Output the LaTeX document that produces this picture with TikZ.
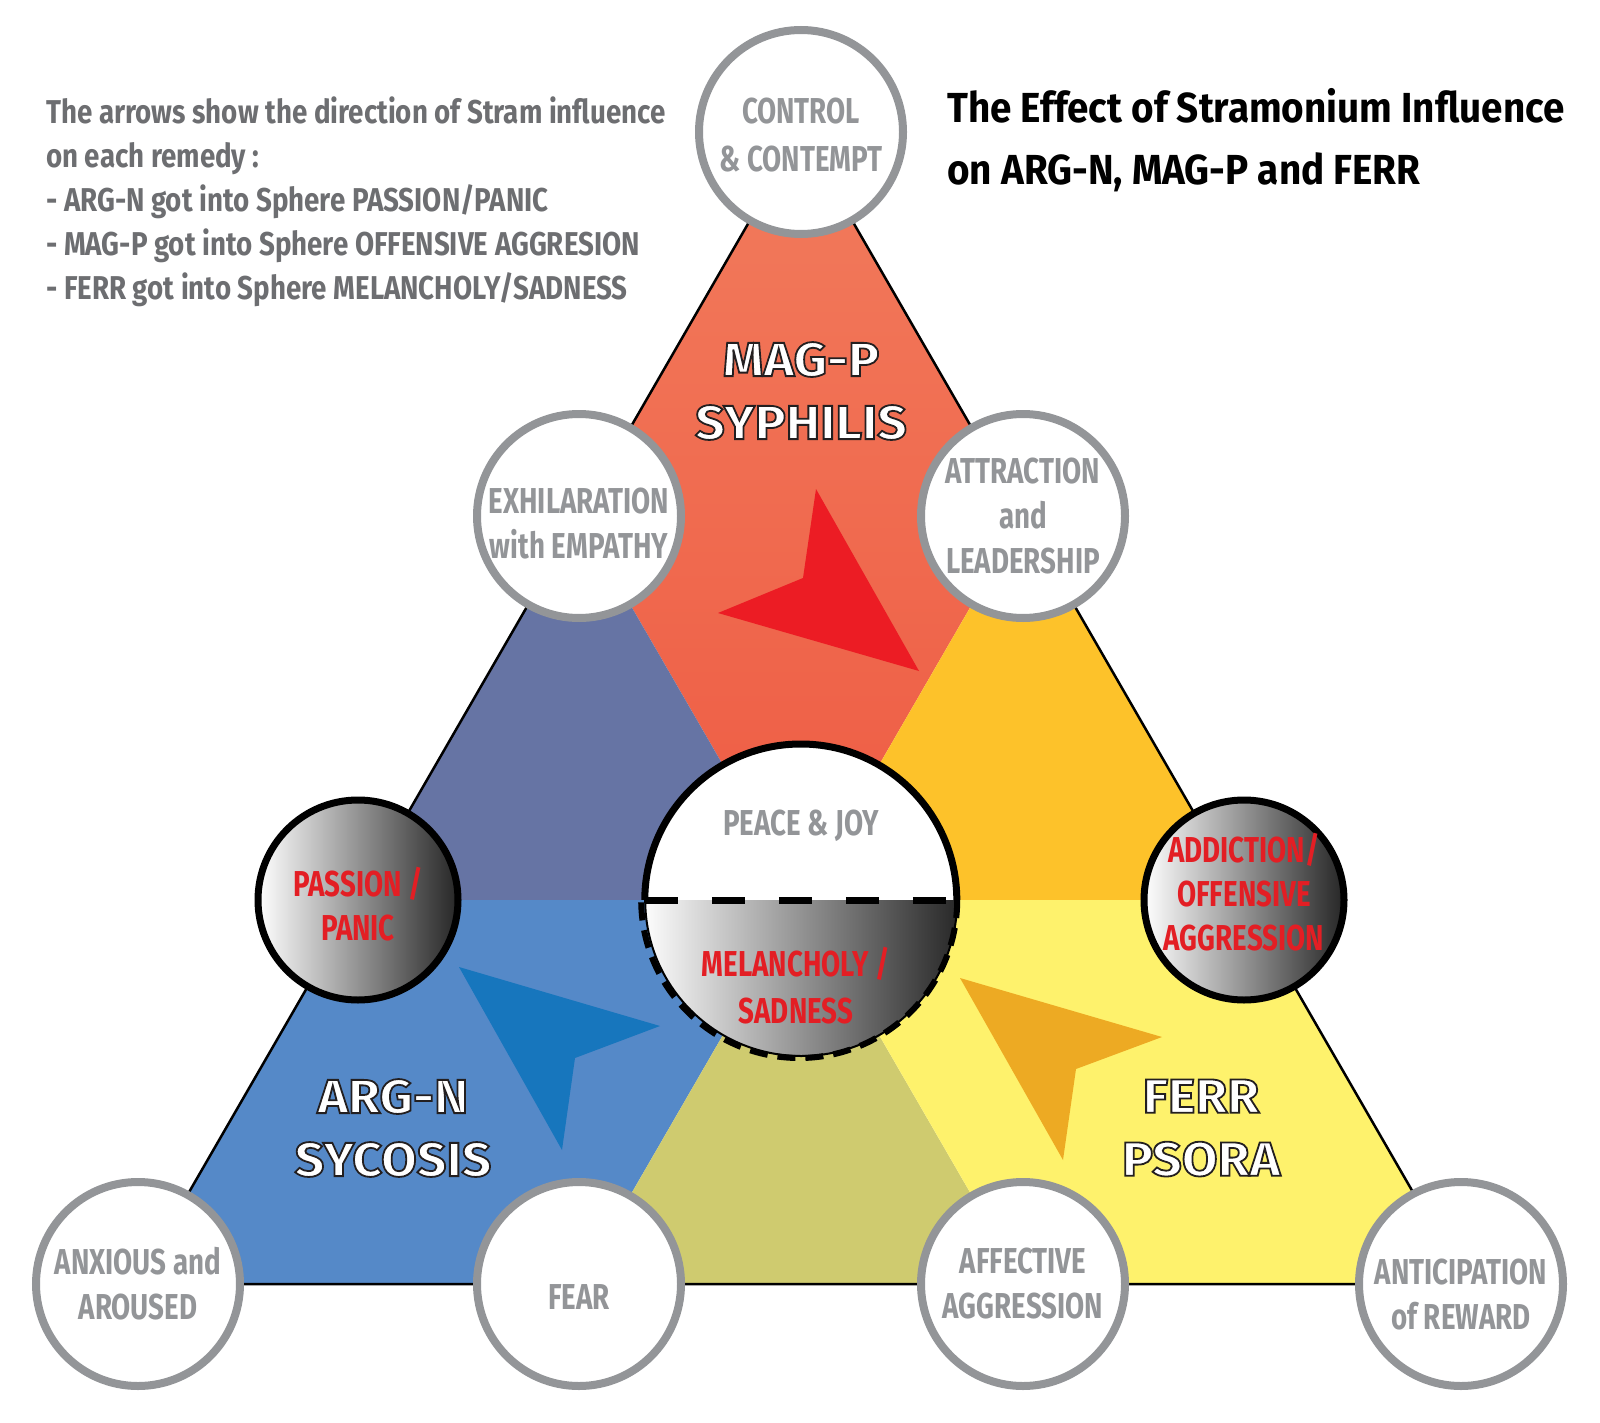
\documentclass[tikz,border=0pt]{standalone}
\usepackage{fontspec}
\usetikzlibrary{positioning, calc}
\setmainfont{Fira Sans}
\newfontfamily\condfont{Fira Sans}[FakeStretch=0.77]
\newfontfamily\notefont{Fira Sans}[FakeStretch=0.84]
\newfontfamily\titlefont{Fira Sans}[FakeStretch=0.92]
\newfontfamily\remedyfont{Fira Sans}[FakeStretch=1.08]
\definecolor{MagRedTop}{HTML}{F27B5C}
\definecolor{MagRedLow}{HTML}{EE5B43}
\definecolor{MixPurple}{HTML}{6674A4}
\definecolor{MixOrange}{HTML}{FDC22A}
\definecolor{ArgBlue}{HTML}{5589C8}
\definecolor{MixOlive}{HTML}{CFCB6F}
\definecolor{FerrYellow}{HTML}{FEF26C}
\definecolor{PointRed}{HTML}{EC1C24}
\definecolor{PointBlue}{HTML}{1776BD}
\definecolor{PointOrange}{HTML}{EDAA23}
\definecolor{RingGray}{HTML}{939598}
\definecolor{NoteGray}{HTML}{6D6E71}
\definecolor{SphereRed}{HTML}{E31E24}
\definecolor{ShadeDark}{HTML}{262626}
% dark rim round the white remedy names
\newcommand{\inked}{\special{pdf:literal direct 2 Tr 1.8 w 0.137 0.122 0.125 RG}}

\begin{document}
\begin{tikzpicture}[
    x=1pt, y=-1pt,
    ring/.style = {circle, draw=RingGray, fill=white, line width=8pt, minimum size=204pt, inner sep=0pt},
    ringtext/.style = {align=center, text=RingGray, font=\condfont\bfseries\fontsize{36}{45}\selectfont},
    sphere/.style = {circle, draw=black, left color=white, right color=ShadeDark, line width=7pt, minimum size=200pt, inner sep=0pt},
    spheretext/.style = {align=center, text=SphereRed, font=\condfont\bfseries\fontsize{36}{44}\selectfont},
    remedy/.style = {align=center, text=white, font=\remedyfont\bfseries\fontsize{48}{63}\selectfont},
    note/.style = {align=left, inner sep=0pt, text=NoteGray, font=\notefont\bfseries\fontsize{33}{44}\selectfont}
  ]
  \useasboundingbox (0,0) rectangle (1600,1423);

  % lattice of the triangle
  \coordinate (apex) at (801,132);
  \coordinate (ul) at (579,516);
  \coordinate (ur) at (1023,516);
  \coordinate (ml) at (358,900);
  \coordinate (cen) at (801,900);
  \coordinate (mr) at (1244,900);
  \coordinate (bl) at (136,1284);
  \coordinate (b1) at (579,1284);
  \coordinate (b2) at (1023,1284);
  \coordinate (br) at (1466,1284);

  % coloured spheres
  \shade [top color=MagRedTop, bottom color=MagRedLow] (apex) -- (ul) -- (cen) -- (ur) -- cycle;
  \fill [MixPurple] (ul) -- (ml) -- (cen) -- cycle;
  \fill [MixOrange] (ur) -- (cen) -- (mr) -- cycle;
  \fill [ArgBlue] (ml) -- (bl) -- (b1) -- (cen) -- cycle;
  \fill [MixOlive] (cen) -- (b1) -- (b2) -- cycle;
  \fill [FerrYellow] (cen) -- (b2) -- (br) -- (mr) -- cycle;
  \draw [black, line width=2.5pt] (apex) -- (bl) -- (br) -- cycle;

  % influence arrows
  \fill [PointRed] (919,671) -- (816,489) -- (803,578) -- (718,613) -- cycle;
  \fill [PointBlue] (660,1026) -- (459,967) -- (562,1150) -- (575,1058) -- cycle;
  \fill [PointOrange] (1162,1037) -- (960,978) -- (1063,1160) -- (1076,1069) -- cycle;

  % remedy names
  \node [remedy] (magp) at (801,391) {\inked MAG-P\\\inked SYPHILIS};
  \node [remedy] (argn) at (393,1128) {\inked ARG-N\\\inked SYCOSIS};
  \node [remedy] (ferr) at (1201,1128) {\inked FERR\\\inked PSORA};

  % outer rings
  \node [ring] (control) at (apex) {};
  \node [ring] (exhil) at (ul) {};
  \node [ring] (attract) at (ur) {};
  \node [ring] (anxious) at (138,1284) {};
  \node [ring] (fear) at (b1) {};
  \node [ring] (affect) at (b2) {};
  \node [ring] (reward) at (1461,1284) {};
  \node [ringtext, font=\condfont\bfseries\fontsize{36}{48}\selectfont] (control-t) at ([yshift=-3pt]control) {CONTROL\\\& CONTEMPT};
  \node [ringtext] (exhil-t) at ([yshift=-8pt]exhil) {EXHILARATION\\with EMPATHY};
  \node [ringtext] (attract-t) at (attract) {ATTRACTION\\and\\LEADERSHIP};
  \node [ringtext] (anxious-t) at (anxious) {ANXIOUS and\\AROUSED};
  \node [ringtext] (fear-t) at ([yshift=-13pt]fear) {FEAR};
  \node [ringtext] (affect-t) at (affect) {AFFECTIVE\\AGGRESSION};
  \node [ringtext] (reward-t) at ([yshift=-11pt]reward) {ANTICIPATION\\of REWARD};

  % dark spheres
  \node [sphere] (passion) at (ml) {};
  \node [sphere] (addict) at (mr) {};
  \node [spheretext] (passion-t) at ([yshift=-4pt]passion) {PASSION /\\PANIC};
  \node [spheretext] (addict-t) at ([yshift=8pt]addict) {ADDICTION/\\OFFENSIVE\\AGGRESSION};

  % centre sphere
  \node [circle, fill=white, minimum size=312pt, inner sep=0pt] (hub) at (cen) {};
  \begin{scope}
    \clip (cen) circle (156);
    \shade [left color=white, right color=ShadeDark] ($(cen)+(-160,0)$) rectangle ($(cen)+(160,160)$);
  \end{scope}
  \draw [black, line width=7pt] (hub.west) arc[start angle=180, end angle=360, radius=156];
  \draw [black, line width=2pt] (hub.east) arc[start angle=0, end angle=180, radius=156];
  \draw [black, line width=6pt, dash pattern=on 18pt off 10pt] (hub.east) arc[start angle=0, end angle=180, radius=158];
  \draw [black, line width=7pt, dash pattern=on 33pt off 34pt] (hub.west) -- (hub.east);
  \node [ringtext] (peace) at (801,826) {PEACE \& JOY};
  \node [spheretext, font=\condfont\bfseries\fontsize{36}{47}\selectfont] (sad) at (796,986) {MELANCHOLY /\\SADNESS};

  % texts
  \node [note, anchor=north west] (notes) at (46,97) {The arrows show the direction of Stram influence\\on each remedy :\\- ARG-N got into Sphere PASSION/PANIC\\- MAG-P got into Sphere OFFENSIVE AGGRESION\\- FERR got into Sphere MELANCHOLY/SADNESS};
  \node [align=left, inner sep=0pt, anchor=north west, text=black, font=\titlefont\bfseries\fontsize{42}{62}\selectfont] (title) at (947,88) {The Effect of Stramonium Influence\\on ARG-N, MAG-P and FERR};
\end{tikzpicture}
\end{document}
